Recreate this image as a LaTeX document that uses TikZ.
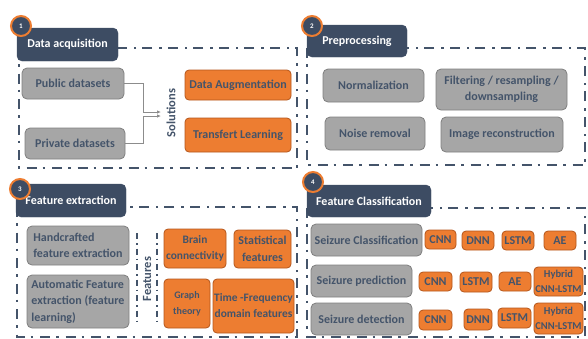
\documentclass[tikz,border=0pt]{standalone}
\usepackage{fontspec}
\setmainfont{Carlito}
\usetikzlibrary{arrows.meta}

\definecolor{slate}{HTML}{44546A}
\definecolor{slatedark}{HTML}{3D4C63}
\definecolor{greyfill}{HTML}{A6A6A6}
\definecolor{greyline}{HTML}{7F7F7F}
\definecolor{orangefill}{HTML}{ED7D31}
\definecolor{orangeline}{HTML}{B4561C}
\definecolor{wire}{HTML}{8C8C8C}

\tikzset{
  frame/.style={slate, line width=2.5pt, dash pattern=on 10pt off 6pt on 2.5pt off 7pt},
  featline/.style={slate, line width=1.6pt, dash pattern=on 6pt off 4pt on 1.5pt off 4pt},
  titlebox/.style={fill=slatedark, draw=slatedark, rounded corners=5pt, text=white,
    font=\bfseries\fontsize{12}{14}\selectfont, inner sep=0pt},
  badge/.style={circle, fill=slatedark, draw=orangefill, line width=2pt, minimum size=20pt,
    inner sep=0pt, text=white, font=\bfseries\fontsize{7}{8}\selectfont},
  greybox/.style={fill=greyfill, draw=greyline, line width=0.8pt, rounded corners=5pt,
    text=slate, font=\bfseries\fontsize{12}{16.5}\selectfont, inner sep=0pt, align=center},
  orangebox/.style={fill=orangefill, draw=orangeline, line width=0.8pt, rounded corners=4pt,
    text=slate, font=\bfseries\fontsize{12}{16.5}\selectfont, inner sep=0pt, align=center},
  sidelabel/.style={rotate=90, text=slate, font=\bfseries\fontsize{12.5}{14}\selectfont},
  conn/.style={wire, line width=0.8pt, -{Latex[length=4pt,width=3.5pt]}},
}

% box from its corners: name, style, x1, y1, x2, y2, text
\newcommand\rbox[7]{%
  \node[#2, minimum width={(#5-#3)*1pt}, minimum height={(#6-#4)*1pt}]
    (#1) at ({(#3+#5)/2},{(#4+#6)/2}) {#7};}

\begin{document}
\begin{tikzpicture}[x=1pt, y=-1pt]
\useasboundingbox (0,0) rectangle (588,338);

% dash-dot panel frames
\draw[frame] (19,48) rectangle (297,168);
\draw[frame] (307,48) rectangle (585,165);
\draw[frame] (17,207) rectangle (297,337);
\draw[frame] (307,208) rectangle (585,337);

% panel titles with numbered badges
\rbox{t1}{titlebox}{17}{28}{118}{61}{Data acquisition}
\rbox{t2}{titlebox}{307}{25}{407}{57}{Preprocessing}
\rbox{t3}{titlebox}{16}{184}{126}{217}{Feature extraction}
\rbox{t4}{titlebox}{307}{185}{431}{217}{Feature Classification}
\node[badge] (b1) at (21,26) {1};
\node[badge] (b2) at (312,26) {2};
\node[badge] (b3) at (20,189) {3};
\node[badge] (b4) at (313,182) {4};

% 1 - data acquisition
\rbox{pub}{greybox}{22}{68}{124}{99}{Public datasets}
\rbox{priv}{greybox}{25}{128}{125}{159}{Private datasets}
\rbox{aug}{orangebox}{185}{70}{291}{100}{Data Augmentation}
\rbox{tl}{orangebox}{185}{118}{291}{152}{Transfert Learning}
\node[sidelabel] (sol) at (171,113) {Solutions};
\coordinate (jn) at (143,0);
\coordinate (in1) at (161,112);
\coordinate (in2) at (161,116);
\draw[conn] (pub.east) -- (pub.east -| jn) |- (in1);
\draw[conn] (priv.east) -- (priv.east -| jn) |- (in2);

% 2 - preprocessing
\rbox{norm}{greybox}{323}{69}{424}{102}{Normalization}
\rbox{filt}{greybox}{436}{69}{567}{110}{Filtering / resampling /\\downsampling}
\rbox{noise}{greybox}{325}{117}{425}{150}{Noise removal}
\rbox{recon}{greybox}{441}{117}{563}{152}{Image reconstruction}

% 3 - feature extraction
\rbox{hand}{greybox, align=left}{27}{226}{129}{265}{Handcrafted\\feature extraction}
\rbox{auto}{greybox, align=left}{27}{275}{129}{328}{Automatic Feature\\extraction (feature\\learning)}
\draw[featline] (137,233) -- (137,322);
\draw[featline] (157,233) -- (157,322);
\node[sidelabel] (feat) at (147,279) {Features};
\rbox{brain}{orangebox, font=\bfseries\fontsize{11.4}{16}\selectfont}{164}{229}{226}{268}{Brain\\connectivity}
\rbox{stat}{orangebox, font=\bfseries\fontsize{12}{17.5}\selectfont}{234}{230}{291}{268}{Statistical\\features}
\rbox{graph}{orangebox, font=\bfseries\fontsize{10}{16}\selectfont}{164}{279}{210}{328}{Graph\\theory}
\rbox{tf}{orangebox, font=\bfseries\fontsize{11.4}{16}\selectfont}{213}{279}{294}{333}{Time -Frequency\\domain features}

% 4 - feature classification
\rbox{scls}{greybox}{311}{224}{422}{256}{Seizure Classification}
\rbox{c1}{orangebox}{425}{230}{456}{249}{CNN}
\rbox{d1}{orangebox}{462}{231}{494}{250}{DNN}
\rbox{l1}{orangebox}{502}{231}{534}{250}{LSTM}
\rbox{a1}{orangebox}{544}{231}{576}{250}{AE}

\rbox{spred}{greybox}{311}{265}{412}{297}{Seizure prediction}
\rbox{c2}{orangebox}{419}{272}{452}{291}{CNN}
\rbox{l2}{orangebox}{460}{272}{492}{292}{LSTM}
\rbox{a2}{orangebox}{499}{272}{531}{291}{AE}
\rbox{h2}{orangebox, font=\bfseries\fontsize{10.5}{15}\selectfont}{534}{267}{583}{296}{Hybrid\\CNN-LSTM}

\rbox{sdet}{greybox}{311}{303}{412}{335}{Seizure detection}
\rbox{c3}{orangebox}{419}{310}{452}{330}{CNN}
\rbox{d3}{orangebox}{464}{309}{492}{330}{DNN}
\rbox{l3}{orangebox}{498}{308}{531}{328}{LSTM}
\rbox{h3}{orangebox, font=\bfseries\fontsize{10.5}{15}\selectfont}{534}{303}{583}{334}{Hybrid\\CNN-LSTM}
\end{tikzpicture}
\end{document}
